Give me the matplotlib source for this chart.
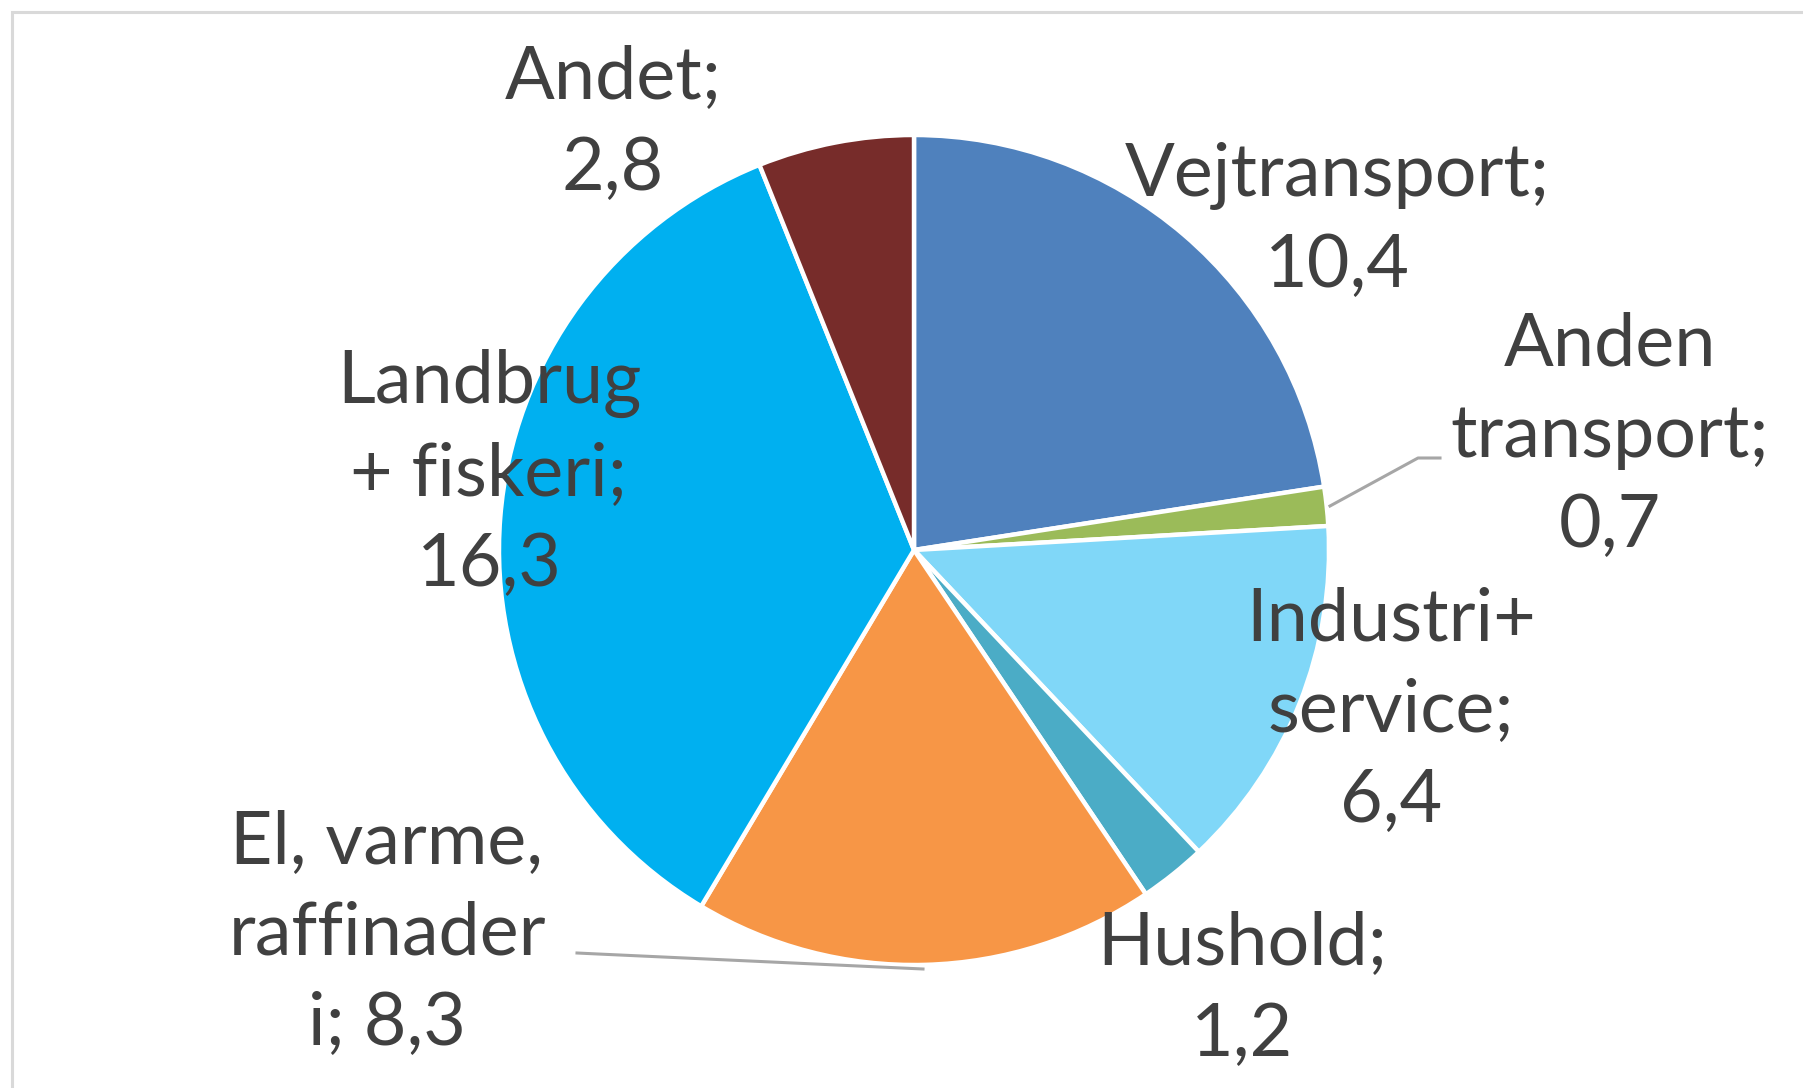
import matplotlib
matplotlib.use("Agg")
import matplotlib.pyplot as plt
from matplotlib.patches import Rectangle

# Danish emissions by sector (pie, clockwise from 12 o'clock)
categories = ["Vejtransport", "Anden\ntransport", "Industri+\nservice", "Hushold",
              "El, varme,\nraffinader\ni", "Landbrug\n+ fiskeri", "Andet"]
values = [10.4, 0.7, 6.4, 1.2, 8.3, 16.3, 2.8]
colors = ["#4F81BD", "#9BBB59", "#80D7F8", "#4BACC6", "#F79646", "#00B0F0", "#772C2A"]

W, H = 1803, 1088
fig = plt.figure(figsize=(W / 100, H / 100), dpi=100)
ax = fig.add_axes([0, 0, 1, 1])

# chart frame (runs off the right/bottom edge like the source)
ax.add_patch(Rectangle((12, -20), W + 40, H - 12 + 20, fill=False,
                       ec="#d9d9d9", lw=2.2, zorder=0))

cx, cy, r = 914, H - 550, 415
ax.pie(values, colors=colors, startangle=90, counterclock=False,
       center=(cx, cy), radius=r, frame=True,
       wedgeprops=dict(edgecolor="white", linewidth=3.2))
ax.set_xlim(0, W)
ax.set_ylim(0, H)
ax.set_aspect("equal")
ax.axis("off")

# label anchor (centre of text block), in pixels from top-left
label_pos = [(1337, 221), (1610, 436), (1391, 711), (1242, 990),
             (387, 934), (489, 474), (613, 124)]

for name, v, (x, y) in zip(categories, values, label_pos):
    sep = " " if name.endswith("\ni") else "\n"
    txt = f"{name};{sep}{v:.1f}".replace(".", ",")
    ax.text(x, H - y, txt, ha="center", va="center", fontsize=53,
            family=["Lato", "DejaVu Sans"], color="#404040", linespacing=1.44)

# leader lines
lc = "#a6a6a6"
ax.plot([1330, 1418, 1440], [H - 506, H - 458, H - 458], color=lc, lw=2.2)
ax.plot([577, 598, 923], [H - 953, H - 954, H - 969], color=lc, lw=2.2)

fig.savefig("out.png", dpi=100)
